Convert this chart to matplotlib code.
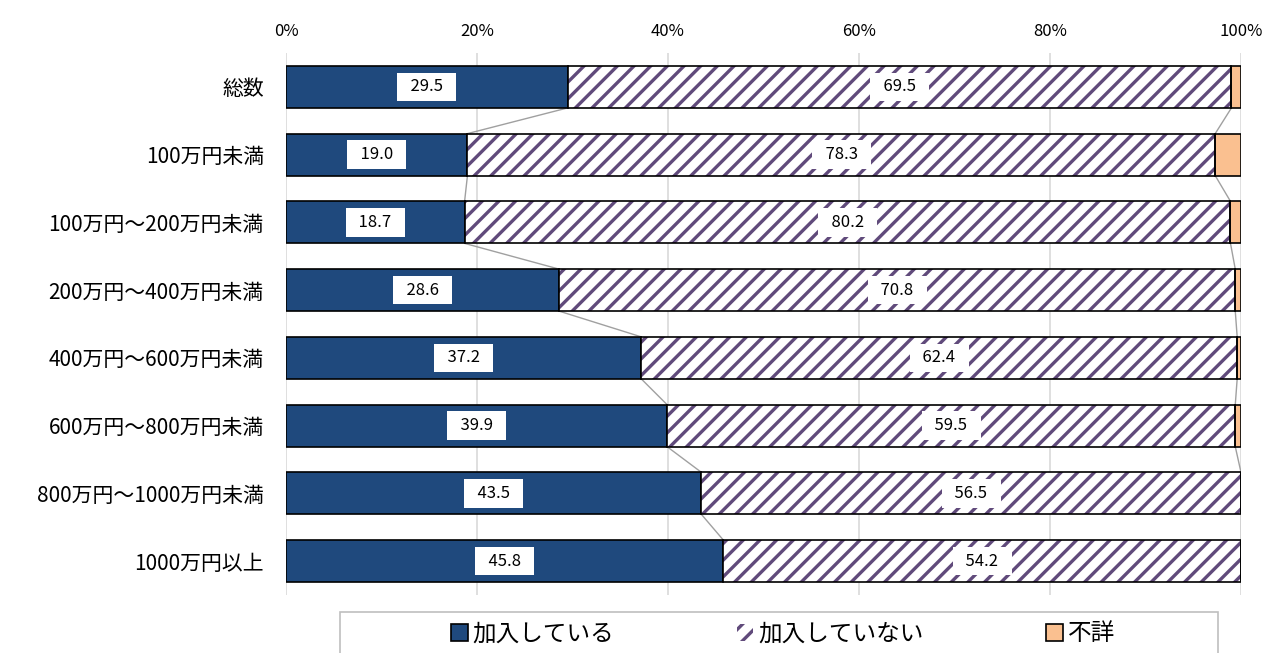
import numpy as np
import matplotlib
matplotlib.use('Agg')
import matplotlib.pyplot as plt
from matplotlib.patches import Rectangle

plt.rcParams['font.family'] = ['Noto Sans CJK JP', 'DejaVu Sans']
plt.rcParams['hatch.linewidth'] = 2.4
plt.rcParams['hatch.color'] = '#604A7B'

categories = ['総数', '100万円未満', '100万円～200万円未満', '200万円～400万円未満',
              '400万円～600万円未満', '600万円～800万円未満', '800万円～1000万円未満', '1000万円以上']
joined = [29.5, 19.0, 18.7, 28.6, 37.2, 39.9, 43.5, 45.8]
not_joined = [69.5, 78.3, 80.2, 70.8, 62.4, 59.5, 56.5, 54.2]
unknown = [1.0, 2.7, 1.1, 0.6, 0.4, 0.6, 0.0, 0.0]
series_names = ['加入している', '加入していない', '不詳']

W, H = 1266, 653
fig = plt.figure(figsize=(W / 100, H / 100), dpi=100)
ax = fig.add_axes([286 / W, 1 - 595 / H, (1241 - 286) / W, (595 - 53) / H])

y = np.arange(len(categories))
h = 0.62
joined = np.array(joined)
not_joined = np.array(not_joined)
unknown = np.array(unknown)

b1 = ax.barh(y, joined, height=h, color='#1F497D', edgecolor='black', linewidth=1.2, label=series_names[0], zorder=3)
b2 = ax.barh(y, not_joined, left=joined, height=h, color='white', edgecolor='#604A7B', hatch='//',
             linewidth=0, label=series_names[1], zorder=3)
# black outline for hatched segment
ax.barh(y, not_joined, left=joined, height=h, color='none', edgecolor='black', linewidth=1.2, zorder=4)
b3 = ax.barh(y, unknown, left=joined + not_joined, height=h, color='#FAC090', edgecolor='black', linewidth=1.2,
             label=series_names[2], zorder=3)

# series lines
cum1 = joined
cum2 = joined + not_joined
for i in range(len(categories) - 1):
    for c in (cum1, cum2):
        ax.plot([c[i], c[i + 1]], [y[i] + h / 2, y[i + 1] - h / 2], color='#A0A0A0', linewidth=1.0, zorder=2)

# data labels
box = dict(facecolor='white', edgecolor='none', boxstyle='square,pad=0.35')
for i in range(len(categories)):
    ax.text(joined[i] / 2, y[i], f'  {joined[i]:.1f}  ', ha='center', va='center', fontsize=12,
            bbox=box, zorder=5)
    ax.text(joined[i] + not_joined[i] / 2, y[i], f'  {not_joined[i]:.1f}  ', ha='center', va='center',
            fontsize=12, bbox=box, zorder=5)

ax.set_xlim(0, 100)
ax.set_ylim(len(categories) - 0.5, -0.5)
ax.set_yticks(y)
ax.set_yticklabels(categories, fontsize=15)
ax.xaxis.tick_top()
ax.set_xticks(np.arange(0, 101, 20))
ax.set_xticklabels([f'{v}%' for v in range(0, 101, 20)], fontsize=12)
ax.tick_params(axis='y', length=0, pad=16)
ax.tick_params(axis='x', length=0, pad=9)
ax.grid(axis='x', color='#D9D9D9', linewidth=1.2, zorder=0)
for s in ax.spines.values():
    s.set_visible(False)

# legend frame (runs off the bottom edge like the source)
fig.patches.append(Rectangle((340 / W, -0.05), (1218 - 340) / W, 0.05 + 1 - 612 / H,
                             transform=fig.transFigure, facecolor='white', edgecolor='#BFBFBF',
                             linewidth=1.2))
leg = fig.legend(handles=[b1, b2, b3], labels=series_names, loc='center',
                 bbox_to_anchor=(783 / W, 1 - 634 / H), ncol=3, fontsize=17,
                 frameon=False, handlelength=0.7, handleheight=0.7,
                 columnspacing=5.2, handletextpad=0.2, borderpad=0)

fig.savefig('out.png', dpi=100)
